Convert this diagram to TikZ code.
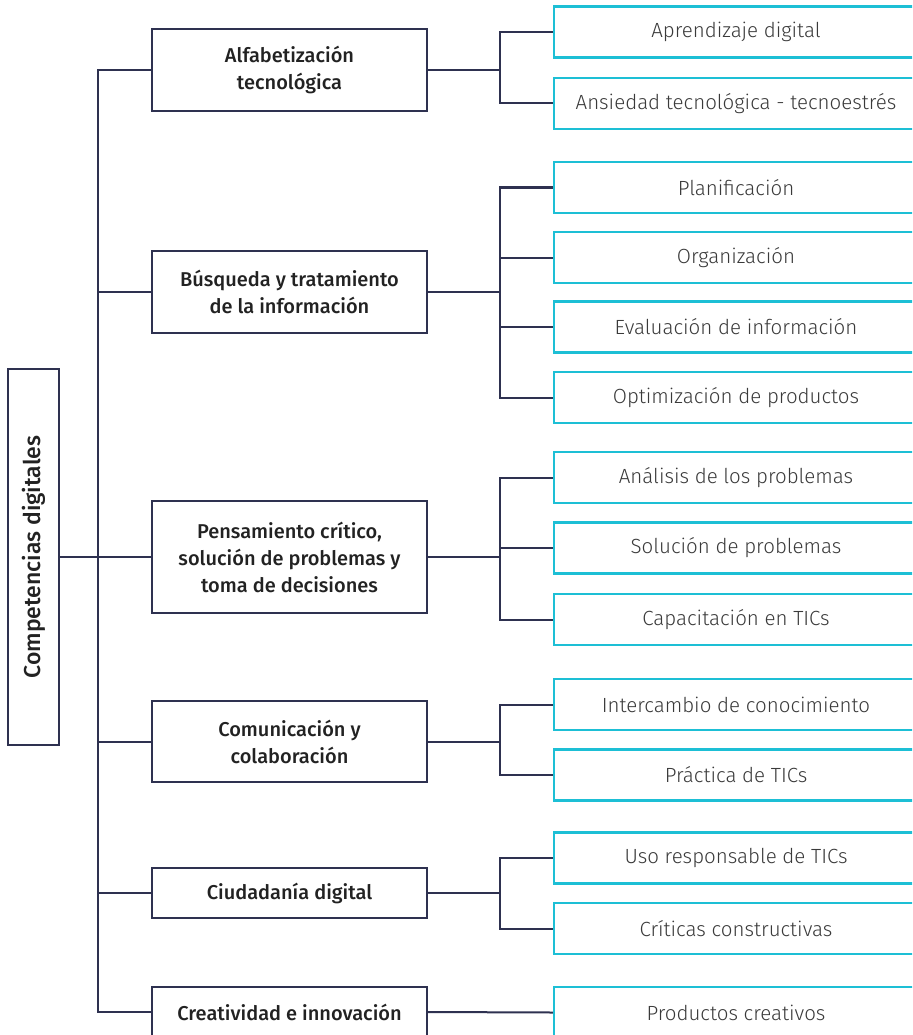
\documentclass[tikz,border=0pt]{standalone}
\usepackage{fontspec}
\setmainfont{Fira Sans}[UprightFont={* Light}, BoldFont={* Medium}]
\definecolor{navy}{HTML}{2E3150}
\definecolor{cyanb}{HTML}{1DBFD5}
\definecolor{txtdark}{HTML}{222222}
\definecolor{txtgrey}{HTML}{3A3A3A}
\tikzset{
  lvl/.style={draw=navy, line width=2.2pt, fill=white, align=center, text=txtdark,
    font=\bfseries\fontsize{20}{27}\selectfont, minimum width=275pt, inner sep=0pt},
  leaf/.style={draw=cyanb, line width=2.4pt, fill=white, align=center, text=txtgrey,
    font=\fontsize{20.5}{24}\selectfont, minimum width=364pt, minimum height=51pt, inner sep=0pt},
  conn/.style={draw=navy, line width=2pt},
}
\begin{document}
\begin{tikzpicture}[x=1pt,y=-1pt]
\clip (0,0) rectangle (912,1035);
\fill[white] (0,0) rectangle (912,1035);
\coordinate (tr) at (98,0);
\coordinate (br) at (500,0);
% root
\node[draw=navy, line width=2pt, rotate=90, minimum width=376pt, minimum height=51pt, inner sep=0pt,
  text=txtdark, font=\bfseries\fontsize{23}{26}\selectfont] (root) at (33.5,557) {Competencias digitales};
% level 1
\node[lvl, minimum height=82pt] (b1) at (289.5,70) {Alfabetización\\tecnológica};
\node[lvl, minimum height=82pt] (b2) at (289.5,292) {Búsqueda y tratamiento\\de la información};
\node[lvl, minimum height=112pt] (b3) at (289.5,557) {Pensamiento crítico,\\solución de problemas y\\toma de decisiones};
\node[lvl, minimum height=81pt] (b4) at (289.5,741.5) {Comunicación y\\colaboración};
\node[lvl, minimum height=50pt] (b5) at (289.5,893) {Ciudadanía digital};
\node[lvl, minimum height=50pt] (b6) at (289.5,1012) {Creatividad e innovación};
% leaves
\node[leaf] (c11) at (736,32) {Aprendizaje digital};
\node[leaf] (c12) at (736,103.5) {Ansiedad tecnológica - tecnoestrés};
\node[leaf] (c21) at (736,187.5) {Planificación};
\node[leaf] (c22) at (736,257.5) {Organización};
\node[leaf] (c23) at (736,327) {Evaluación de información};
\node[leaf] (c24) at (736,397.5) {Optimización de productos};
\node[leaf] (c31) at (736,477.5) {Análisis de los problemas};
\node[leaf] (c32) at (736,548) {Solución de problemas};
\node[leaf] (c33) at (736,619.5) {Capacitación en TICs};
\node[leaf] (c41) at (736,704.5) {Intercambio de conocimiento};
\node[leaf] (c42) at (736,775) {Práctica de TICs};
\node[leaf] (c51) at (736,858) {Uso responsable de TICs};
\node[leaf] (c52) at (736,928.5) {Críticas constructivas};
\node[leaf] (c61) at (736,1012.5) {Productos creativos};
% trunk
\draw[conn] (root.south) -- (root.south -| b3.west);
\draw[conn] (b1.west) -- (b1.west -| tr) -- (b6.west -| tr) -- (b6.west);
\draw[conn] (b2.west) -- (b2.west -| tr);
\draw[conn] (b4.west) -- (b4.west -| tr);
\draw[conn] (b5.west) -- (b5.west -| tr);
% brackets
\draw[conn] (b1.east) -- (b1.east -| br);
\draw[conn] (c11.west) -- (c11.west -| br) -- (c12.west -| br) -- (c12.west);
\draw[conn] (b2.east) -- (b2.east -| br);
\draw[conn] (c21.west) -- (c21.west -| br) -- (c24.west -| br) -- (c24.west);
\draw[conn] (c22.west) -- (c22.west -| br);
\draw[conn] (c23.west) -- (c23.west -| br);
\draw[conn] (b3.east) -- (b3.east -| br);
\draw[conn] (c31.west) -- (c31.west -| br) -- (c33.west -| br) -- (c33.west);
\draw[conn] (c32.west) -- (c32.west -| br);
\draw[conn] (b4.east) -- (b4.east -| br);
\draw[conn] (c41.west) -- (c41.west -| br) -- (c42.west -| br) -- (c42.west);
\draw[conn] (b5.east) -- (b5.east -| br);
\draw[conn] (c51.west) -- (c51.west -| br) -- (c52.west -| br) -- (c52.west);
\draw[conn] (b6.east) -- (c61.west);
\end{tikzpicture}
\end{document}
